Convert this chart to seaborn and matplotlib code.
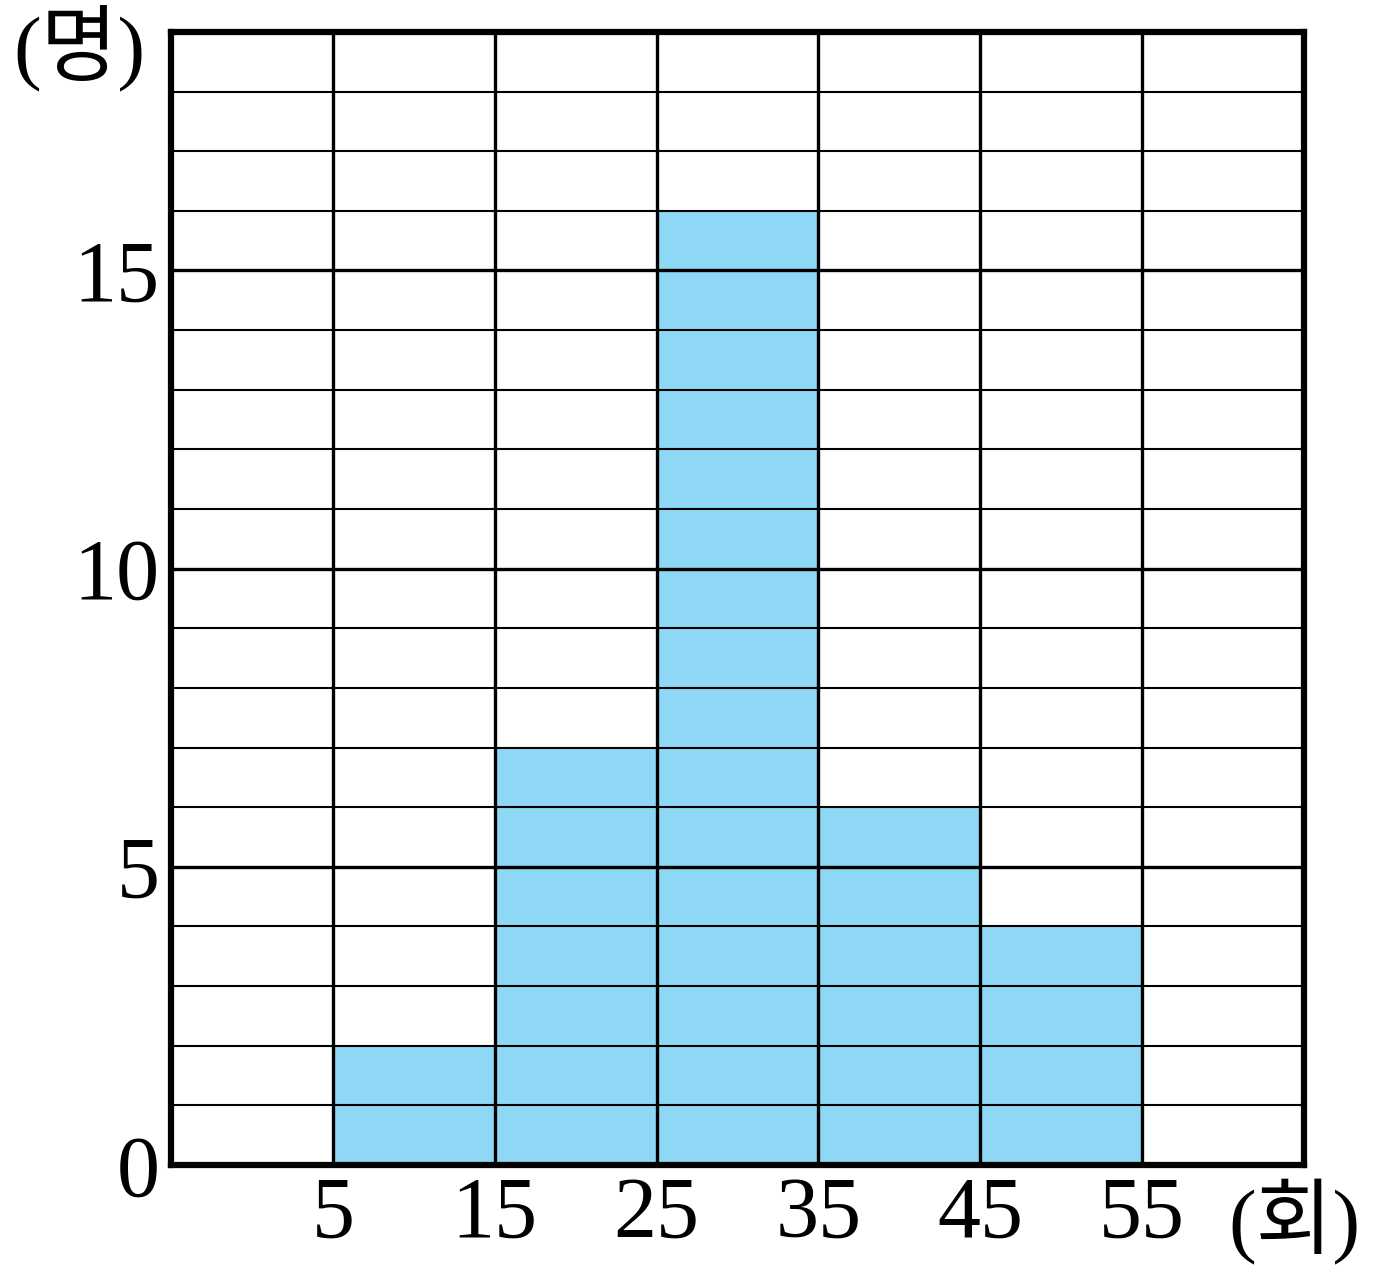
import numpy as np
import seaborn as sns
import matplotlib.pyplot as plt

# histogram data: class edges (회) and counts (명)
edges = [5, 15, 25, 35, 45, 55]
counts = [2, 7, 16, 6, 4]
mids = [(a + b) / 2 for a, b in zip(edges[:-1], edges[1:])]
x_ticks = [5, 15, 25, 35, 45, 55]
y_ticks = [0, 5, 10, 15]

sns.set_style('white')
plt.rcParams['font.family'] = ['Liberation Serif', 'Noto Sans CJK KR']
plt.rcParams['text.color'] = 'black'
plt.rcParams['xtick.color'] = 'black'
plt.rcParams['ytick.color'] = 'black'

fig = plt.figure(figsize=(13.76, 12.68), dpi=100)
ax = fig.add_axes([0.1243, 0.0812, 0.8234, 0.8936])

sns.histplot(x=mids, weights=counts, bins=edges, color='#8ED8F5', alpha=1,
             linewidth=0, ax=ax)

ax.set_xlim(-5, 65)
ax.set_ylim(0, 19)
ax.set_xticks(x_ticks)
ax.set_xticks([-5, 65], minor=True)
ax.set_yticks(y_ticks)
ax.set_yticks(np.arange(0, 20), minor=True)

# grid over the bars
ax.set_axisbelow(False)
ax.xaxis.grid(True, which='both', color='black', linewidth=2.4)
ax.yaxis.grid(True, which='minor', color='black', linewidth=1.5)
ax.yaxis.grid(True, which='major', color='black', linewidth=2.4)

for s in ax.spines.values():
    s.set_visible(True)
    s.set_color('black')
    s.set_linewidth(4.5)

ax.tick_params(axis='both', which='both', length=0, labelsize=62)
ax.tick_params(axis='y', pad=8)
ax.tick_params(axis='x', pad=8)
ax.set_xlabel('')
ax.set_ylabel('')

fig.text(0.058, 0.962, '(명)', fontsize=60, ha='center', va='center')
fig.text(0.941, 0.036, '(회)', fontsize=60, ha='center', va='center')

plt.savefig('out.png', dpi=100)
